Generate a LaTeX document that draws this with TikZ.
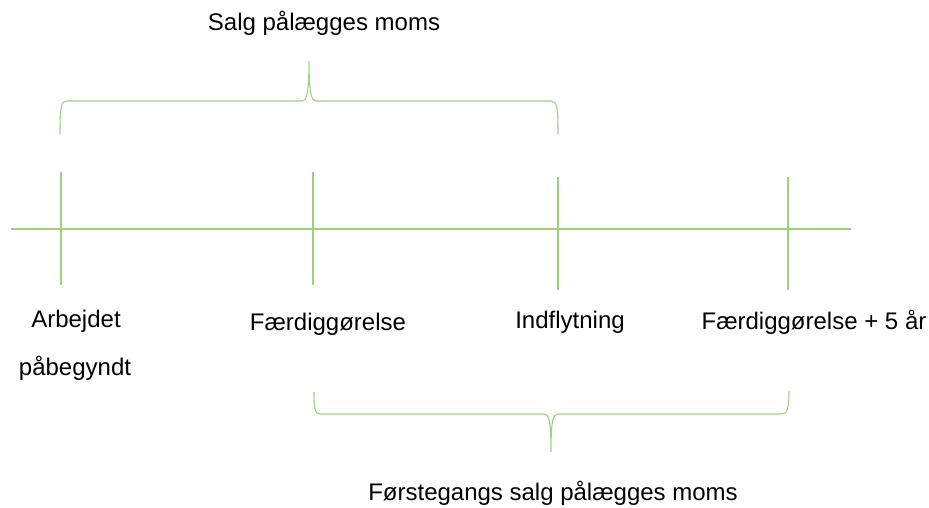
\documentclass[tikz,border=0pt]{standalone}
\usepackage{fontspec}
\setmainfont{Liberation Sans}
\definecolor{lightgreen}{RGB}{158,208,128}

\tikzset{
  axis/.style={draw=lightgreen, line width=2.4pt},
  tick/.style={draw=lightgreen, line width=1.3pt},
  bracket/.style={draw=lightgreen, line width=1.1pt},
  label/.style={anchor=center, inner sep=0pt, font=\fontsize{24}{28}\selectfont}
}

\begin{document}
\begin{tikzpicture}[x=1pt, y=-1pt]
  	\useasboundingbox (0,0) rectangle (929,507);
  	\begin{scope}
   	% time line
   	\coordinate (start) at (11,229);
   	\coordinate (end) at (851,229);
   	\draw[axis] (start) -- (end);

   	\coordinate (workTop) at (61,172);  \coordinate (workBot) at (61,285);
   	\coordinate (doneTop) at (313,172); \coordinate (doneBot) at (313,285);
   	\coordinate (moveTop) at (558,177); \coordinate (moveBot) at (558,290);
   	\coordinate (fiveTop) at (788,177); \coordinate (fiveBot) at (788,290);

   	\draw[tick] (workTop) -- (workBot);
   	\draw[tick] (doneTop) -- (doneBot);
   	\draw[tick] (moveTop) -- (moveBot);
   	\draw[tick] (fiveTop) -- (fiveBot);

   	% upper brace
   	\coordinate (upLeft) at (60,134);
   	\coordinate (upTip) at (309,61);
   	\coordinate (upRight) at (558,134);
   	\draw[bracket] (upLeft) .. controls (60,106) and (61,101) .. (67,101)
   	  -- (302,101) .. controls (306,101) and (309,96) .. (upTip)
   	  .. controls (309,96) and (312,101) .. (316,101)
   	  -- (551,101) .. controls (557,101) and (558,106) .. (upRight);

   	% lower brace
   	\coordinate (lowLeft) at (314,392);
   	\coordinate (lowTip) at (551,452);
   	\coordinate (lowRight) at (789,391);
   	\draw[bracket] (lowLeft) .. controls (314,409) and (315,414) .. (320,414)
   	  -- (544,414) .. controls (549,414) and (551,420) .. (lowTip)
   	  .. controls (551,420) and (553,414) .. (558,414)
   	  -- (782,414) .. controls (787,414) and (789,409) .. (lowRight);

   	\node[label] (salg) at (324,23) {Salg pålægges moms};
   	\node[label] (arbejdet) at (76,321) {Arbejdet};
   	\node[label] (begyndt) at (75,368) {påbegyndt};
   	\node[label] (faerdig) at (328,324) {Færdiggørelse};
   	\node[label] (indflyt) at (570,322) {Indflytning};
   	\node[label] (femaar) at (814,322) {Færdiggørelse + 5 år};
   	\node[label] (forste) at (553,493) {Førstegangs salg pålægges moms};
  	\end{scope}
\end{tikzpicture}
\end{document}
